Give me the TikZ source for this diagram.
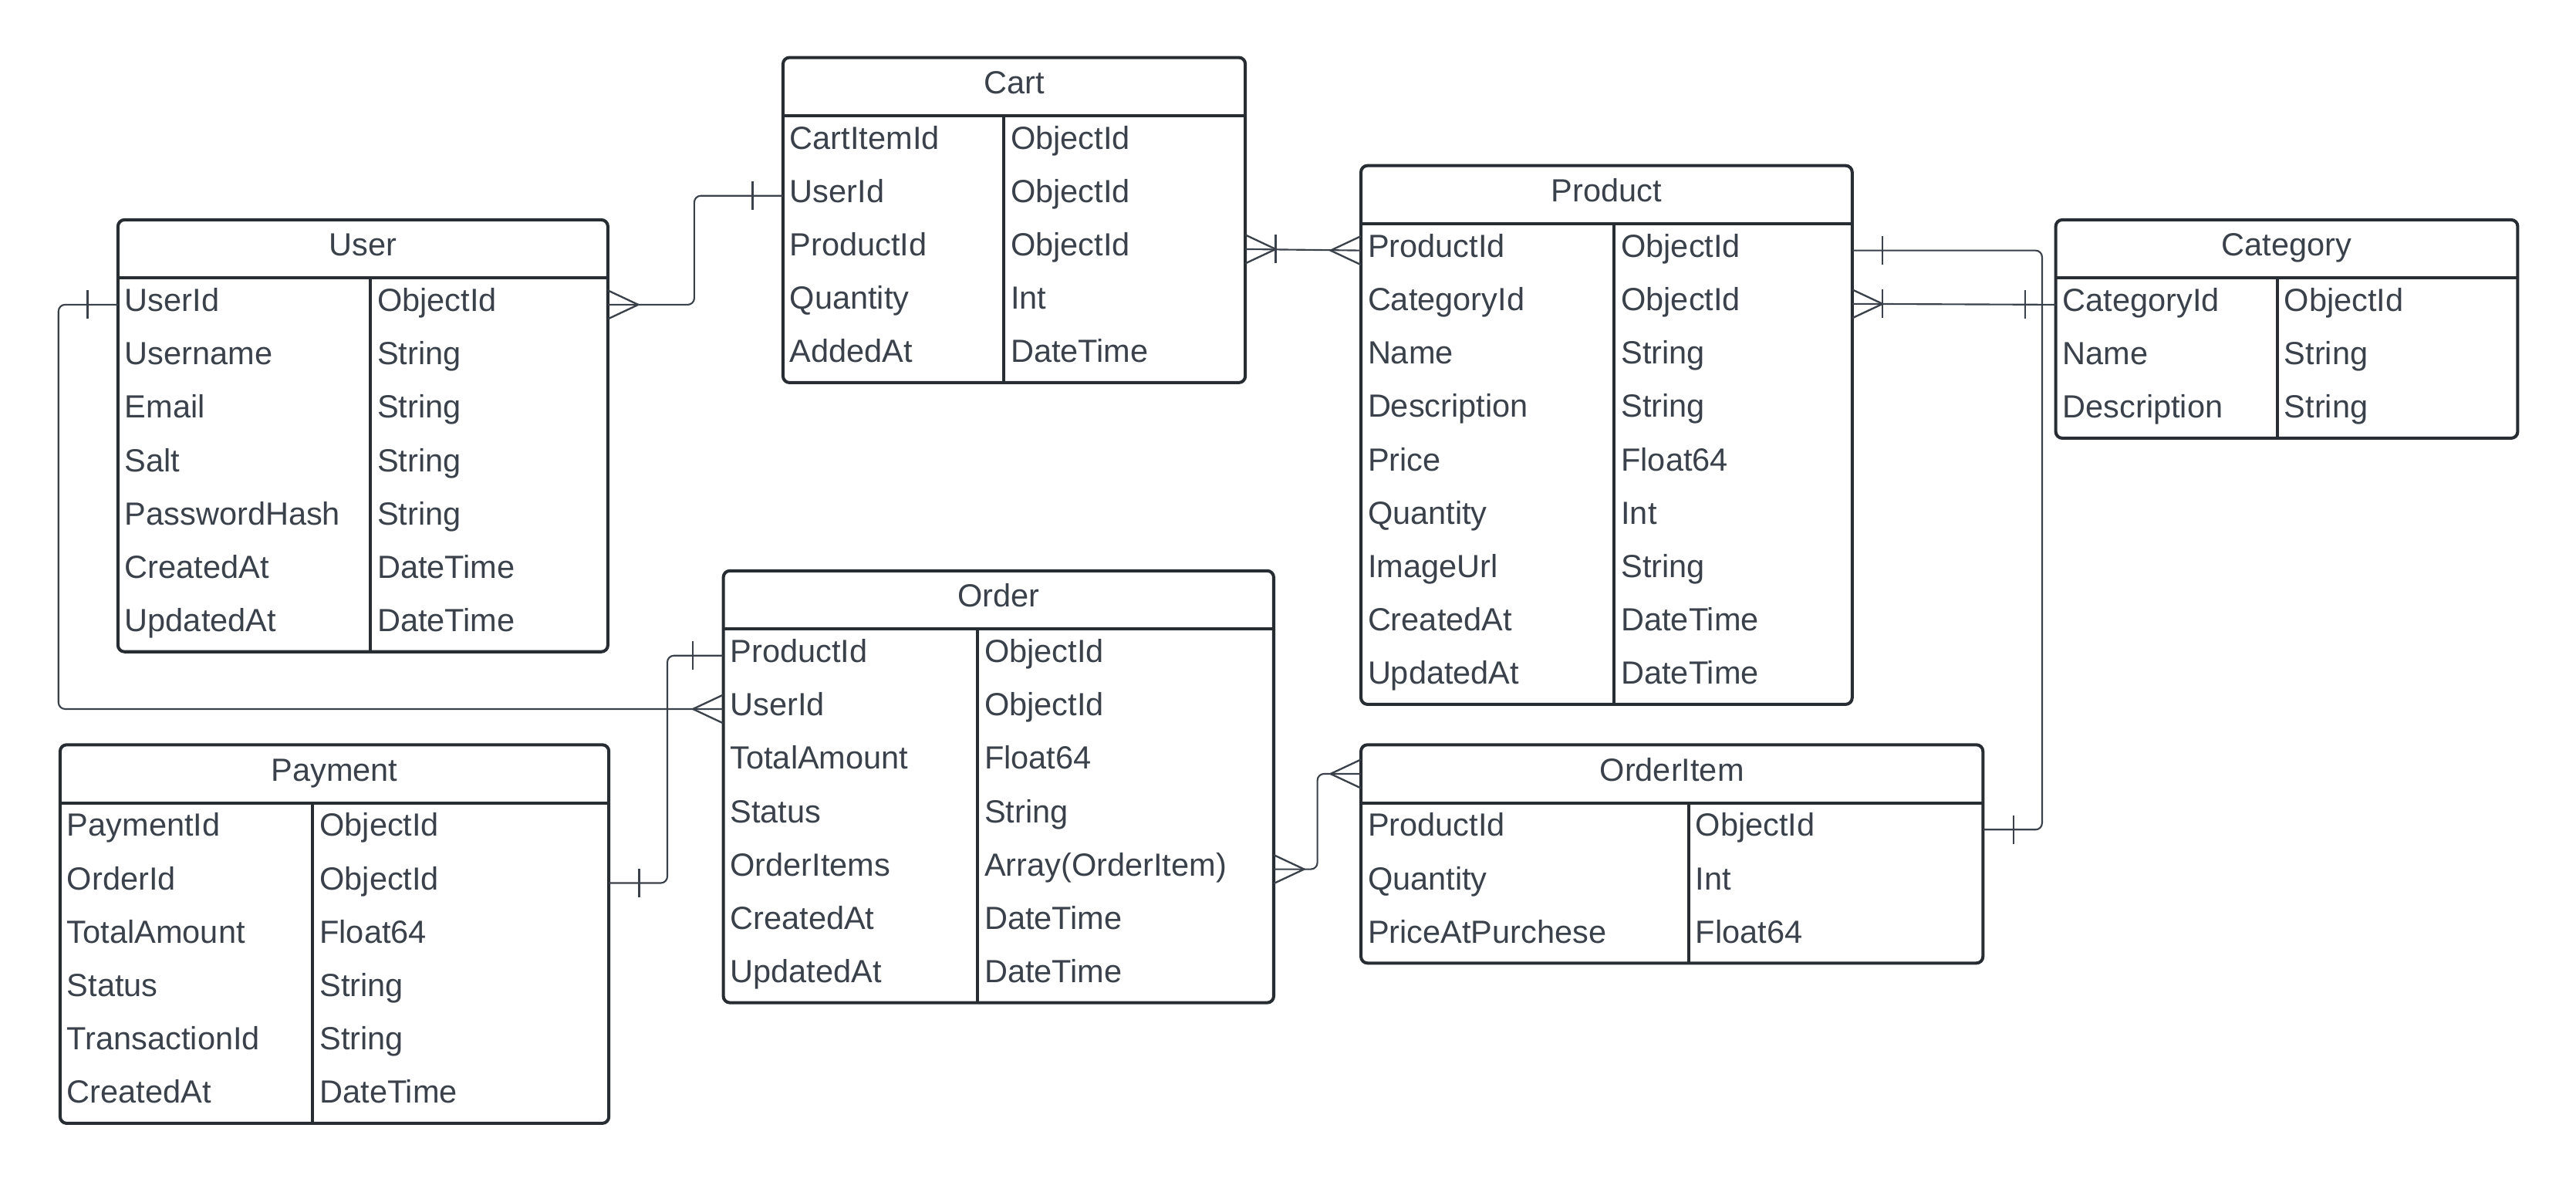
\documentclass[tikz,border=0pt]{standalone}
\usepackage{fontspec}
\setmainfont{Liberation Sans}
\usetikzlibrary{fit}
\definecolor{boxGray}{HTML}{282C33}
\definecolor{textGray}{HTML}{3A414A}
\definecolor{lineGray}{HTML}{3A414A}

\begin{document}
\begin{tikzpicture}[%%
  x=1pt,y=-1pt,%%
  font=\fontsize{19.5}{23}\selectfont,%%
  headStyle/.style={inner sep=0pt,outer sep=0pt,minimum height=35.4pt,text height=14pt,text depth=5.2pt,text=textGray},%%
  rowStyle/.style={inner sep=0pt,outer sep=0pt,minimum height=32.5pt},%%
  fieldStyle/.style={inner sep=0pt,anchor=base west,text=textGray},%%
  boxStyle/.style={draw=boxGray,line width=1.9pt,rounded corners=4pt,inner sep=0pt},%%
  boxLine/.style={draw=boxGray,line width=1.9pt},%%
  relLine/.style={draw=lineGray,line width=1pt,rounded corners=4pt},%%
  markLine/.style={draw=lineGray,line width=1.1pt,sharp corners},%%
  manyFoot/.pic={\draw[markLine] (0,-8.7) -- (18.5,0) -- (0,8.7);},%%
  oneBar/.pic={\draw[markLine] (18.5,-8.7) -- (18.5,8.7);}%%
]
%%
\useasboundingbox (0,0) rectangle (1568,719.4);
%%
%% The Cart table.
\node[headStyle,minimum width=281.4] (cartHead) at (617.3,52.7) {Cart};
\foreach \f/\t [count=\n] in {CartItemId/ObjectId,UserId/ObjectId,ProductId/ObjectId,Quantity/Int,AddedAt/DateTime}{
  \node[rowStyle,minimum width=281.4] (cart-\n) at (617.3,70.4+32.5*\n-16.25) {};
  \node[fieldStyle] (cart-\n-f) at ([xshift=4pt,yshift=-4.05pt]cart-\n.west) {\f};
  \node[fieldStyle] (cart-\n-t) at ([xshift=138.4pt,yshift=-4.05pt]cart-\n.west) {\t};
}
\node[boxStyle,fit=(cartHead)(cart-5)] (cart) {};
\draw[boxLine] (cartHead.south west) -- (cartHead.south east);
\draw[boxLine] ([xshift=134.4pt]cartHead.south west) -- ([xshift=134.4pt]cart-5.south west);
%%
%% The User table.
\node[headStyle,minimum width=298.2] (userHead) at (220.9,151.5) {User};
\foreach \f/\t [count=\n] in {UserId/ObjectId,Username/String,Email/String,Salt/String,PasswordHash/String,CreatedAt/DateTime,UpdatedAt/DateTime}{
  \node[rowStyle,minimum width=298.2] (user-\n) at (220.9,169.2+32.5*\n-16.25) {};
  \node[fieldStyle] (user-\n-f) at ([xshift=4pt,yshift=-4.05pt]user-\n.west) {\f};
  \node[fieldStyle] (user-\n-t) at ([xshift=157.7pt,yshift=-4.05pt]user-\n.west) {\t};
}
\node[boxStyle,fit=(userHead)(user-7)] (user) {};
\draw[boxLine] (userHead.south west) -- (userHead.south east);
\draw[boxLine] ([xshift=153.7pt]userHead.south west) -- ([xshift=153.7pt]user-7.south west);
%%
%% The Product table.
\node[headStyle,minimum width=299] (productHead) at (977.9,118.5) {Product};
\foreach \f/\t [count=\n] in {ProductId/ObjectId,CategoryId/ObjectId,Name/String,Description/String,Price/Float64,Quantity/Int,ImageUrl/String,CreatedAt/DateTime,UpdatedAt/DateTime}{
  \node[rowStyle,minimum width=299] (product-\n) at (977.9,136.2+32.5*\n-16.25) {};
  \node[fieldStyle] (product-\n-f) at ([xshift=4pt,yshift=-4.05pt]product-\n.west) {\f};
  \node[fieldStyle] (product-\n-t) at ([xshift=158.2pt,yshift=-4.05pt]product-\n.west) {\t};
}
\node[boxStyle,fit=(productHead)(product-9)] (product) {};
\draw[boxLine] (productHead.south west) -- (productHead.south east);
\draw[boxLine] ([xshift=154.2pt]productHead.south west) -- ([xshift=154.2pt]product-9.south west);
%%
%% The Category table.
\node[headStyle,minimum width=281.2] (categoryHead) at (1391.9,151.5) {Category};
\foreach \f/\t [count=\n] in {CategoryId/ObjectId,Name/String,Description/String}{
  \node[rowStyle,minimum width=281.2] (category-\n) at (1391.9,169.2+32.5*\n-16.25) {};
  \node[fieldStyle] (category-\n-f) at ([xshift=4pt,yshift=-4.05pt]category-\n.west) {\f};
  \node[fieldStyle] (category-\n-t) at ([xshift=138.9pt,yshift=-4.05pt]category-\n.west) {\t};
}
\node[boxStyle,fit=(categoryHead)(category-3)] (category) {};
\draw[boxLine] (categoryHead.south west) -- (categoryHead.south east);
\draw[boxLine] ([xshift=134.9pt]categoryHead.south west) -- ([xshift=134.9pt]category-3.south west);
%%
%% The Order table.
\node[headStyle,minimum width=335] (orderHead) at (607.8,365.1) {Order};
\foreach \f/\t [count=\n] in {ProductId/ObjectId,UserId/ObjectId,TotalAmount/Float64,Status/String,OrderItems/Array(OrderItem),CreatedAt/DateTime,UpdatedAt/DateTime}{
  \node[rowStyle,minimum width=335] (order-\n) at (607.8,382.8+32.5*\n-16.25) {};
  \node[fieldStyle] (order-\n-f) at ([xshift=4pt,yshift=-4.05pt]order-\n.west) {\f};
  \node[fieldStyle] (order-\n-t) at ([xshift=158.8pt,yshift=-4.05pt]order-\n.west) {\t};
}
\node[boxStyle,fit=(orderHead)(order-7)] (order) {};
\draw[boxLine] (orderHead.south west) -- (orderHead.south east);
\draw[boxLine] ([xshift=154.8pt]orderHead.south west) -- ([xshift=154.8pt]order-7.south west);
%%
%% The Payment table.
\node[headStyle,minimum width=334] (paymentHead) at (203.6,471) {Payment};
\foreach \f/\t [count=\n] in {PaymentId/ObjectId,OrderId/ObjectId,TotalAmount/Float64,Status/String,TransactionId/String,CreatedAt/DateTime}{
  \node[rowStyle,minimum width=334] (payment-\n) at (203.6,488.7+32.5*\n-16.25) {};
  \node[fieldStyle] (payment-\n-f) at ([xshift=4pt,yshift=-4.05pt]payment-\n.west) {\f};
  \node[fieldStyle] (payment-\n-t) at ([xshift=157.8pt,yshift=-4.05pt]payment-\n.west) {\t};
}
\node[boxStyle,fit=(paymentHead)(payment-6)] (payment) {};
\draw[boxLine] (paymentHead.south west) -- (paymentHead.south east);
\draw[boxLine] ([xshift=153.8pt]paymentHead.south west) -- ([xshift=153.8pt]payment-6.south west);
%%
%% The OrderItem table.
\node[headStyle,minimum width=378.6] (orderitemHead) at (1017.7,471) {OrderItem};
\foreach \f/\t [count=\n] in {ProductId/ObjectId,Quantity/Int,PriceAtPurchese/Float64}{
  \node[rowStyle,minimum width=378.6] (orderitem-\n) at (1017.7,488.7+32.5*\n-16.25) {};
  \node[fieldStyle] (orderitem-\n-f) at ([xshift=4pt,yshift=-4.05pt]orderitem-\n.west) {\f};
  \node[fieldStyle] (orderitem-\n-t) at ([xshift=203.5pt,yshift=-4.05pt]orderitem-\n.west) {\t};
}
\node[boxStyle,fit=(orderitemHead)(orderitem-3)] (orderitem) {};
\draw[boxLine] (orderitemHead.south west) -- (orderitemHead.south east);
\draw[boxLine] ([xshift=199.5pt]orderitemHead.south west) -- ([xshift=199.5pt]orderitem-3.south west);
%%
%% Relations.
\draw[relLine] (user-1.west) -- ++(-36.2,0) |- (order-2.west);
\draw[relLine] (user-1.east) -- ++(52.6,0) |- (cart-2.west);
\draw[relLine] (cart-3.east) -- (product-1.west);
\draw[relLine] (product-1.east) -- ++(115.6,0) |- (orderitem-1.east);
\draw[relLine] (product-2.east) -- (category-1.west);
\draw[relLine] (order-1.west) -- ++(-34.1,0) |- (payment-2.east);
\draw[relLine] (order-5.east) -- ++(26.6,0) |- (orderitemHead.west);
%%
%% Relation ends.
\pic[rotate=180] at (user-1.west) {oneBar};
\pic[rotate=180] at (order-2.west) {manyFoot};
\pic at (user-1.east) {manyFoot};
\pic[rotate=180] at (cart-2.west) {oneBar};
\pic at (cart-3.east) {manyFoot};
\pic at (cart-3.east) {oneBar};
\pic[rotate=180] at (product-1.west) {manyFoot};
\pic at (product-1.east) {oneBar};
\pic at (orderitem-1.east) {oneBar};
\pic at (product-2.east) {manyFoot};
\pic at (product-2.east) {oneBar};
\pic[rotate=180] at (category-1.west) {oneBar};
\pic[rotate=180] at (order-1.west) {oneBar};
\pic at (payment-2.east) {oneBar};
\pic at (order-5.east) {manyFoot};
\pic[rotate=180] at (orderitemHead.west) {manyFoot};
\end{tikzpicture}
\end{document}
